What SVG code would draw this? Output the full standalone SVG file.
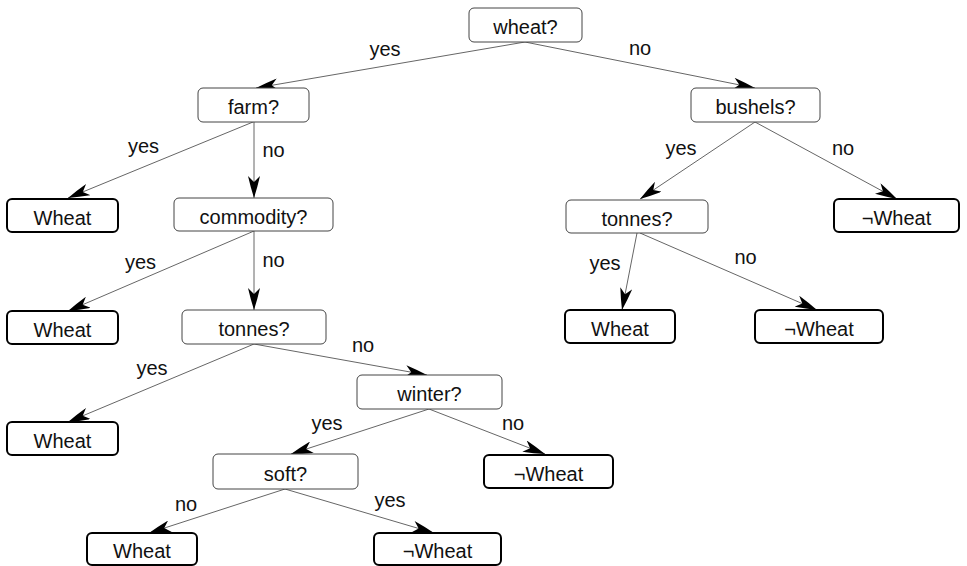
<svg xmlns="http://www.w3.org/2000/svg" width="967" height="566" viewBox="0 0 967 566">
<style>
text{font-family:"Liberation Sans",Arial,sans-serif;font-size:20px;fill:#111;text-anchor:middle}
.q{fill:#fff;stroke:#444;stroke-width:1}
.l{fill:#fff;stroke:#000;stroke-width:2}
.c line{stroke:#666;stroke-width:1;marker-end:url(#ah)}
</style>
<defs>
<marker id="ah" markerUnits="userSpaceOnUse" viewBox="0 0 22 12" refX="22" refY="6" markerWidth="22" markerHeight="12" orient="auto">
<path d="M22,6 Q11,2.5 0,0 L6,6 L0,12 Q11,9.5 22,6 Z" fill="#000"/>
</marker>
</defs>
<rect width="967" height="566" fill="#fff"/>
<g class="c" id="connectors">
<line x1="525" y1="42" x2="256" y2="88"/>
<line x1="525" y1="42" x2="755" y2="88"/>
<line x1="253" y1="122" x2="68" y2="198"/>
<line x1="254" y1="122" x2="254" y2="198"/>
<line x1="254" y1="231" x2="68" y2="311"/>
<line x1="254" y1="231" x2="254" y2="310"/>
<line x1="254" y1="344" x2="68" y2="422"/>
<line x1="254" y1="344" x2="427" y2="375"/>
<line x1="429" y1="409" x2="291" y2="454"/>
<line x1="429" y1="409" x2="545" y2="454"/>
<line x1="285" y1="489" x2="149" y2="533"/>
<line x1="285" y1="489" x2="434" y2="533"/>
<line x1="755" y1="122" x2="640" y2="199"/>
<line x1="755" y1="122" x2="897" y2="199"/>
<line x1="637" y1="233" x2="622" y2="310"/>
<line x1="640" y1="233" x2="817" y2="310"/>
</g>
<g id="labels">
<text x="385" y="56">yes</text>
<text x="640" y="55">no</text>
<text x="143.5" y="153">yes</text>
<text x="273.5" y="157">no</text>
<text x="140.5" y="269">yes</text>
<text x="273.5" y="267">no</text>
<text x="152" y="375">yes</text>
<text x="363" y="352">no</text>
<text x="327" y="430">yes</text>
<text x="513" y="430">no</text>
<text x="186" y="511">no</text>
<text x="390" y="507">yes</text>
<text x="681" y="155">yes</text>
<text x="843" y="155">no</text>
<text x="605" y="270">yes</text>
<text x="745.5" y="264">no</text>
</g>
<g id="n-wheat"><rect class="q" x="469" y="8" width="113" height="34" rx="5"/><text x="525.5" y="34">wheat?</text></g>
<g id="n-farm"><rect class="q" x="198" y="88" width="111" height="34" rx="5"/><text x="253.5" y="114">farm?</text></g>
<g id="n-bushels"><rect class="q" x="691" y="88" width="129" height="34" rx="5"/><text x="755.5" y="114">bushels?</text></g>
<g id="n-commodity"><rect class="q" x="174" y="198" width="159" height="33" rx="5"/><text x="253.5" y="223.5">commodity?</text></g>
<g id="n-tonnes-r"><rect class="q" x="566" y="200" width="142" height="33" rx="5"/><text x="637" y="225.5">tonnes?</text></g>
<g id="n-tonnes-l"><rect class="q" x="182" y="310" width="144" height="34" rx="5"/><text x="254" y="336">tonnes?</text></g>
<g id="n-winter"><rect class="q" x="357" y="375" width="145" height="34" rx="5"/><text x="429.5" y="401">winter?</text></g>
<g id="n-soft"><rect class="q" x="213" y="454" width="145" height="35" rx="5"/><text x="285.5" y="480.5">soft?</text></g>
<g id="leaf1"><rect class="l" x="7" y="199" width="111" height="33" rx="5"/><text x="62.5" y="224.5">Wheat</text></g>
<g id="leaf2"><rect class="l" x="834" y="199" width="125" height="33" rx="5"/><text x="896.5" y="224.5">¬Wheat</text></g>
<g id="leaf3"><rect class="l" x="7" y="311" width="111" height="33" rx="5"/><text x="62.5" y="336.5">Wheat</text></g>
<g id="leaf4"><rect class="l" x="565" y="310" width="110" height="33" rx="5"/><text x="620" y="335.5">Wheat</text></g>
<g id="leaf5"><rect class="l" x="755" y="310" width="128" height="33" rx="5"/><text x="819" y="335.5">¬Wheat</text></g>
<g id="leaf6"><rect class="l" x="7" y="422" width="111" height="33" rx="5"/><text x="62.5" y="447.5">Wheat</text></g>
<g id="leaf7"><rect class="l" x="484" y="455" width="129" height="33" rx="5"/><text x="548.5" y="480.5">¬Wheat</text></g>
<g id="leaf8"><rect class="l" x="87" y="533" width="110" height="32" rx="5"/><text x="142" y="558">Wheat</text></g>
<g id="leaf9"><rect class="l" x="374" y="533" width="127" height="32" rx="5"/><text x="437.5" y="558">¬Wheat</text></g>
</svg>
